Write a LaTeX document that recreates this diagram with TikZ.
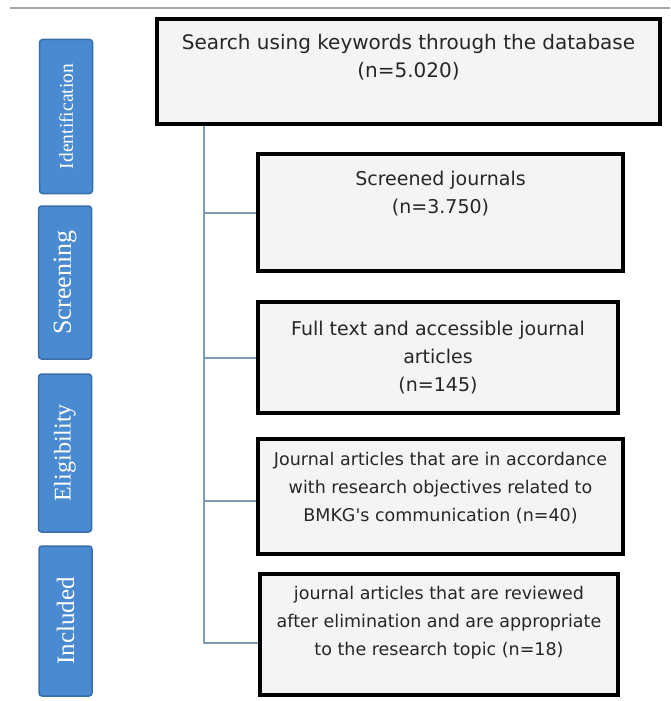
\documentclass[tikz,border=0pt]{standalone}
\usepackage{fontspec}
\usepackage{tikz}
\usetikzlibrary{positioning}
\newfontfamily\boxfont{DejaVu Sans}
\newfontfamily\tabfont{Liberation Serif}
\definecolor{tabblue}{HTML}{4A8AD0}
\definecolor{tabedge}{HTML}{3A6EA8}
\definecolor{spineblue}{HTML}{7F9BB8}
\definecolor{boxfill}{HTML}{F4F4F4}
\definecolor{boxtext}{HTML}{262626}
\tikzset{StageTab/.style={%
    shape=rectangle,%
    draw=tabedge,%
    fill=tabblue,%
    line width=1.5pt,%
    rounded corners=3pt,%
    rotate=90,%
    minimum height=53pt,%
    text=white,%
    inner sep=0pt,%
}}
\tikzset{RecordBox/.style={%
    shape=rectangle,%
    draw=black,%
    fill=boxfill,%
    line width=4pt,%
    inner sep=0pt,%
}}
\tikzset{RecordText/.style={%
    align=center,%
    text=boxtext,%
    inner sep=0pt,%
    font=\boxfont\fontsize{#1}{28}\selectfont,%
}}
\tikzset{SpineEdge/.style={%
    draw=spineblue,%
    line width=2pt,%
}}
\tikzset{TopRule/.style={%
    draw=gray!70,%
    line width=2pt,%
}}
\NewDocumentCommand{\stageLabel}{m m}{%
    {\tabfont\fontsize{#1}{#1}\selectfont #2}%
}

\begin{document}
\begin{tikzpicture}[x=1pt,y=-1pt]
    \useasboundingbox (0,0) rectangle (670,701);
    \draw[TopRule] (10,8) -- (670,8);

    \node[StageTab, minimum width=154pt] (s1) at (66,116.5) {\stageLabel{19.5}{Identification}};
    \node[StageTab, minimum width=153pt] (s2) at (65,282.5) {\stageLabel{26}{Screening}};
    \node[StageTab, minimum width=158pt] (s3) at (65,453) {\stageLabel{24}{Eligibility}};
    \node[StageTab, minimum width=150pt] (s4) at (65.5,621) {\stageLabel{25}{Included}};

    \node[RecordBox, minimum width=503pt, minimum height=105pt, anchor=north west] (r1) at (155,17) {};
    \node[RecordBox, minimum width=365pt, minimum height=117pt, anchor=north west] (r2) at (256,152) {};
    \node[RecordBox, minimum width=360pt, minimum height=111pt, below=27pt of r2.south west, anchor=north west] (r3) {};
    \node[RecordBox, minimum width=365pt, minimum height=115pt, below=22pt of r3.south west, anchor=north west] (r4) {};
    \node[RecordBox, minimum width=358pt, minimum height=121pt, below=16pt of r4.south west, anchor=north west, xshift=2pt] (r5) {};

    \node[RecordText=20, below=17pt of r1.north] (r1txt) {Search using keywords through the database\\(n=5.020)};
    \node[RecordText=19, below=19pt of r2.north] (r2txt) {Screened journals\\(n=3.750)};
    \node[RecordText=19, below=21pt of r3.north] (r3txt) {Full text and accessible journal\\articles\\(n=145)};
    \node[RecordText=17.5, below=15pt of r4.north] (r4txt) {Journal articles that are in accordance\\with research objectives related to\\BMKG's communication (n=40)};
    \node[RecordText=17.5, below=14pt of r5.north] (r5txt) {journal articles that are reviewed\\after elimination and are appropriate\\to the research topic (n=18)};

    \coordinate (spine) at ([xshift=49pt]r1.south west);
    \draw[SpineEdge] (spine) |- ([yshift=-8.5pt]r5.west);
    \draw[SpineEdge] (spine) |- (r2.west);
    \draw[SpineEdge] (spine) |- (r3.west);
    \draw[SpineEdge] (spine) |- ([yshift=-4.5pt]r4.west);
\end{tikzpicture}
\end{document}
